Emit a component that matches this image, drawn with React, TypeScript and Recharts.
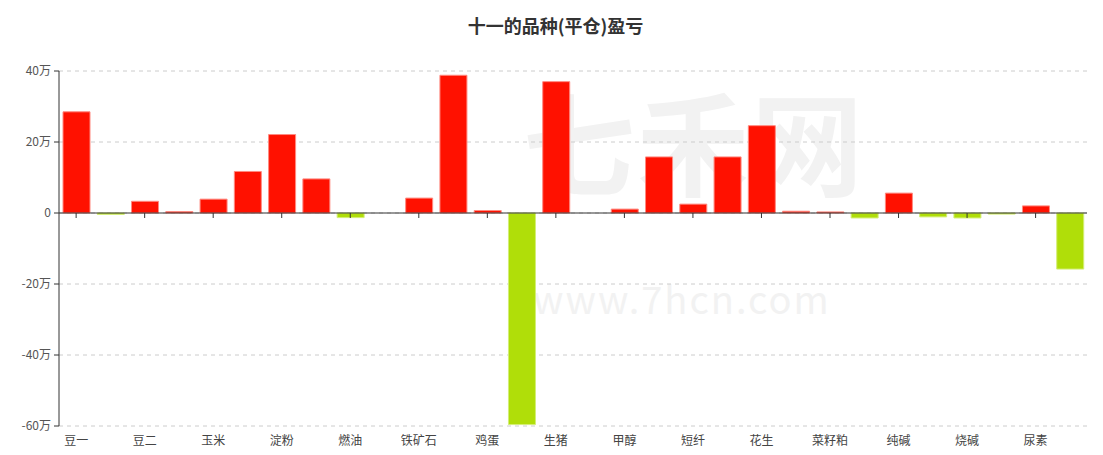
import { BarChart, Bar, XAxis, YAxis, CartesianGrid, Cell, ReferenceLine } from "recharts";

// 品种 (only every other one is labelled on the axis)
const varieties = [
  "豆一", "豆粕", "豆二", "豆油", "玉米", "棕榈油", "淀粉", "聚丙烯", "燃油", "沥青",
  "铁矿石", "焦炭", "鸡蛋", "苹果", "生猪", "PTA", "甲醇", "棉花", "短纤", "白糖",
  "花生", "菜油", "菜籽粕", "玻璃", "纯碱", "红枣", "烧碱", "PVC", "尿素", "纸浆",
];

// 盈亏, 单位: 万
const profit = [
  28.5, -0.4, 3.3, 0.4, 3.9, 11.7, 22.1, 9.6, -1.3, 0,
  4.2, 38.8, 0.7, -59.6, 37.0, 0, 1.1, 15.8, 2.5, 15.8,
  24.6, 0.5, 0.3, -1.4, 5.6, -1.1, -1.4, -0.3, 2.0, -15.8,
];

const yTicks = [-60, -40, -20, 0, 20, 40];

const data = varieties.map((name, i) => ({ name, value: profit[i] }));

const W = 1095;
const H = 440;
const XH = 22;
const M = { top: 63, right: 16, bottom: 0, left: 0 };
const YW = 51;
const plotH = H - M.top - M.bottom - XH;
const zeroY = M.top + (plotH * (40 - 0)) / (40 - -60);

const XTick = (props: any) => {
  const { x, payload } = props;
  return (
    <g>
      <line x1={x} x2={x} y1={zeroY} y2={zeroY + 5} stroke="#333" />
      <text x={x} y={H - 3} textAnchor="middle" fontSize={12} fill="#444">
        {payload.value}
      </text>
    </g>
  );
};

export default function App() {
  return (
    <div style={{ position: "relative", width: W, height: H }}>
      <style>{`.recharts-surface { overflow: visible; } .recharts-wrapper { overflow: visible; }`}</style>
      <div
        style={{
          position: "absolute",
          left: 0,
          top: 0,
          width: W,
          height: H,
          fontFamily: "Noto Sans CJK SC, sans-serif",
          color: "#f2f2f2",
          pointerEvents: "none",
        }}
      >
        <div style={{ position: "absolute", left: 515, top: 50, fontSize: 112, fontWeight: 700, letterSpacing: 2 }}>
          七禾网
        </div>
        <div style={{ position: "absolute", left: 525, top: 262, fontSize: 38, letterSpacing: 2 }}>
          www.7hcn.com
        </div>
      </div>
      <div
        style={{
          position: "absolute",
          left: 0,
          top: 4,
          width: W,
          textAlign: "center",
          fontFamily: "Noto Sans CJK SC, sans-serif",
          fontSize: 18,
          fontWeight: 700,
          color: "#333",
        }}
      >
        十一的品种(平仓)盈亏
      </div>
      <BarChart
        width={W}
        height={H}
        data={data}
        margin={M}
        barSize={27}
        style={{ position: "absolute", left: 0, top: 0, fontFamily: "Noto Sans CJK SC, sans-serif" }}
      >
        <CartesianGrid vertical={false} stroke="#ccc" strokeDasharray="4 4" />
        <XAxis
          dataKey="name"
          interval={1}
          axisLine={false}
          tickLine={false}
          height={XH}
          tick={<XTick />}
        />
        <YAxis
          width={YW}
          domain={[-60, 40]}
          ticks={yTicks}
          tickFormatter={(v: number) => (v === 0 ? "0" : `${v}万`)}
          axisLine={{ stroke: "#333" }}
          tickLine={{ stroke: "#333" }}
          tickSize={5}
          tickMargin={3}
          tick={{ fontSize: 12, fill: "#555" }}
        />
        <ReferenceLine y={0} stroke="#333" />
        <Bar dataKey="value" isAnimationActive={false}>
          {data.map((d, i) => (
            <Cell
              key={`c-${i}`}
              fill={d.value >= 0 ? "#FF1100" : "#B0DE09"}
              stroke={d.value >= 0 ? "#FF8A80" : "#D4EE77"}
              strokeWidth={1}
            />
          ))}
        </Bar>
      </BarChart>
    </div>
  );
}
